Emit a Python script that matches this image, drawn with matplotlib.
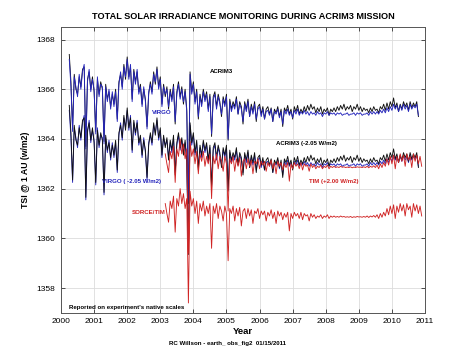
import numpy as np
import matplotlib

matplotlib.use("Agg")
import matplotlib.pyplot as plt

plt.rcParams["font.family"] = ["Liberation Sans", "DejaVu Sans"]

# ACRIM3 and VIRGO: samples every 0.05 yr from 2000.25 to 2010.80
acrim_start = 2000.25
acrim3 = [
    1367.4, 1366.3, 1364.4, 1366.6, 1366.0, 1365.8, 1366.5, 1366.1, 1366.8, 1366.9,
    1363.7, 1366.4, 1366.7, 1366.0, 1366.5, 1365.9, 1364.3, 1366.4, 1365.8, 1366.3,
    1366.0, 1363.9, 1366.2, 1365.6, 1365.9, 1365.3, 1365.8, 1365.4, 1366.0, 1364.8,
    1366.3, 1366.6, 1366.1, 1367.0, 1366.4, 1367.3, 1366.5, 1366.9, 1365.6, 1366.8,
    1366.3, 1366.7, 1365.9, 1366.2, 1365.4, 1366.0, 1365.6, 1364.5, 1365.8, 1366.3,
    1365.9, 1366.7, 1366.2, 1366.9, 1366.1, 1366.5, 1365.4, 1366.2, 1365.7, 1366.1,
    1365.2, 1366.0, 1365.6, 1366.2, 1364.6, 1365.9, 1366.3, 1365.7, 1366.1, 1365.4,
    1366.0, 1365.2, 1361.4, 1366.7, 1365.9, 1366.3, 1365.5, 1366.0, 1364.8, 1365.8,
    1365.4, 1366.0, 1365.6, 1365.9, 1365.2, 1365.8, 1364.1, 1365.7, 1365.9, 1365.3,
    1365.8, 1365.5, 1364.9, 1365.7, 1365.4, 1365.8, 1363.95, 1365.6, 1365.2, 1365.5,
    1365.3, 1365.7, 1365.0, 1365.5, 1365.3, 1364.6, 1365.5, 1365.2, 1365.6, 1364.9,
    1365.4, 1365.1, 1365.5, 1364.7, 1365.3, 1365.4, 1365.0, 1365.3, 1364.8, 1365.2,
    1365.3, 1365.0, 1365.25, 1364.7, 1365.2, 1365.05, 1365.3, 1364.9, 1365.2, 1364.5,
    1365.25, 1365.1, 1365.35, 1365.0, 1365.2, 1364.8, 1365.3, 1365.1, 1365.35, 1365.0,
    1365.2, 1365.05, 1365.3, 1365.1, 1365.35, 1365.15, 1365.4, 1365.2, 1365.3, 1365.05,
    1365.25, 1365.1, 1365.3, 1365.0, 1365.2, 1365.1, 1365.25, 1364.95, 1365.2, 1365.1,
    1365.25, 1365.1, 1365.3, 1365.15, 1365.35, 1365.2, 1365.4, 1365.15, 1365.3, 1365.2,
    1365.35, 1365.1, 1365.3, 1365.2, 1365.4, 1365.15, 1365.3, 1365.1, 1365.25, 1365.15,
    1365.2, 1365.05, 1365.25, 1365.1, 1365.3, 1365.15, 1365.2, 1365.05, 1365.3, 1365.2,
    1365.4, 1365.15, 1365.45, 1365.2, 1365.5, 1365.3, 1365.65, 1365.25, 1365.45, 1365.1,
    1365.4, 1365.2, 1365.5, 1365.3, 1365.45, 1365.15, 1365.5, 1365.25, 1365.45, 1365.3,
    1365.5, 1364.9,
]
virgo = [
    1367.2, 1366.1, 1364.3, 1366.5, 1366.1, 1365.7, 1366.6, 1366.0, 1366.7, 1367.0,
    1363.6, 1366.3, 1366.8, 1365.9, 1366.4, 1366.0, 1364.2, 1366.5, 1365.7, 1366.2,
    1366.1, 1363.8, 1366.1, 1365.5, 1366.0, 1365.2, 1365.9, 1365.3, 1365.9, 1364.7,
    1366.2, 1366.7, 1366.0, 1366.9, 1366.5, 1367.2, 1366.4, 1367.0, 1365.5, 1366.7,
    1366.2, 1366.8, 1365.8, 1366.1, 1365.3, 1366.1, 1365.5, 1364.4, 1365.9, 1366.2,
    1365.8, 1366.6, 1366.3, 1366.8, 1366.0, 1366.4, 1365.3, 1366.1, 1365.8, 1366.0,
    1365.3, 1365.9, 1365.5, 1366.1, 1364.7, 1365.8, 1366.2, 1365.6, 1366.0, 1365.5,
    1365.9, 1365.1, 1361.5, 1366.6, 1365.8, 1366.2, 1365.4, 1365.9, 1364.9, 1365.7,
    1365.3, 1365.9, 1365.5, 1365.8, 1365.1, 1365.7, 1364.2, 1365.6, 1365.8, 1365.2,
    1365.7, 1365.4, 1365.0, 1365.6, 1365.3, 1365.7, 1364.0, 1365.5, 1365.1, 1365.4,
    1365.2, 1365.6, 1365.0, 1365.4, 1365.2, 1364.7, 1365.4, 1365.1, 1365.5, 1364.9,
    1365.3, 1365.0, 1365.4, 1364.8, 1365.2, 1365.3, 1364.9, 1365.2, 1364.8, 1365.1,
    1365.15, 1364.95, 1365.2, 1364.7, 1365.1, 1365.0, 1365.2, 1364.85, 1365.1, 1364.6,
    1365.15, 1365.0, 1365.2, 1364.95, 1365.1, 1364.85, 1365.15, 1365.0, 1365.2, 1364.95,
    1365.1, 1365.0, 1365.15, 1365.0, 1365.1, 1364.95, 1365.1, 1365.0, 1365.05, 1364.95,
    1365.1, 1365.0, 1365.05, 1364.9, 1365.05, 1365.0, 1365.1, 1364.95, 1365.05, 1365.0,
    1365.05, 1364.95, 1365.05, 1365.0, 1365.05, 1364.95, 1365.0, 1365.0, 1365.05, 1364.95,
    1365.0, 1365.0, 1365.05, 1364.95, 1365.05, 1365.0, 1365.05, 1364.95, 1365.0, 1365.0,
    1365.05, 1364.95, 1365.1, 1365.0, 1365.1, 1365.0, 1365.1, 1365.0, 1365.15, 1365.05,
    1365.2, 1365.05, 1365.25, 1365.1, 1365.3, 1365.15, 1365.4, 1365.2, 1365.35, 1365.1,
    1365.35, 1365.15, 1365.4, 1365.2, 1365.35, 1365.1, 1365.4, 1365.2, 1365.35, 1365.25,
    1365.4, 1364.95,
]

# SORCE/TIM: samples every 0.05 yr from 2003.15 to 2010.90
tim_start = 2003.15
tim = [
    1361.4, 1361.0, 1360.65, 1361.5, 1361.2, 1361.7, 1360.25, 1361.6, 1361.3, 1362.0,
    1361.4, 1361.8, 1361.2, 1361.6, 1357.4, 1361.9, 1361.3, 1361.6, 1361.0, 1361.5,
    1360.6, 1361.4, 1361.1, 1361.5, 1360.9, 1361.3, 1361.0, 1361.4, 1359.6, 1361.3,
    1361.0, 1361.4, 1360.8, 1361.3, 1361.1, 1360.7, 1361.3, 1361.0, 1359.1, 1361.2,
    1361.0, 1361.3, 1360.7, 1361.2, 1360.9, 1361.25, 1360.5, 1361.1, 1361.2, 1360.8,
    1361.2, 1360.9, 1361.15, 1360.6, 1361.1, 1361.0, 1361.2, 1360.8, 1361.1, 1360.95,
    1361.1, 1360.7, 1361.05, 1360.9, 1361.15, 1360.8, 1361.05, 1360.6, 1361.1, 1360.9,
    1361.05, 1360.75, 1361.0, 1360.85, 1361.05, 1360.3, 1361.0, 1360.8, 1361.05, 1360.9,
    1361.0, 1360.8, 1361.05, 1360.75, 1361.0, 1360.9, 1360.95, 1360.7, 1361.0, 1360.85,
    1360.95, 1360.8, 1360.9, 1360.85, 1360.95, 1360.8, 1360.9, 1360.85, 1360.95, 1360.8,
    1360.9, 1360.85, 1360.9, 1360.85, 1360.88, 1360.85, 1360.9, 1360.86, 1360.88, 1360.85,
    1360.87, 1360.85, 1360.88, 1360.84, 1360.87, 1360.85, 1360.88, 1360.86, 1360.87, 1360.85,
    1360.88, 1360.85, 1360.9, 1360.84, 1360.9, 1360.86, 1360.92, 1360.85, 1360.95, 1360.8,
    1361.0, 1360.85, 1361.05, 1360.9, 1361.2, 1360.95, 1361.3, 1361.0, 1361.35, 1360.8,
    1361.3, 1361.05, 1361.4, 1361.1, 1361.35, 1360.9, 1361.4, 1361.15, 1361.3, 1360.85,
    1361.4, 1361.1, 1361.35, 1361.0, 1361.3, 1360.9,
]

# offsets used on the chart to stack the series
acrim_shift = -2.05
virgo_shift = -2.05
tim_shift = 2.00

BLACK = "#111111"
BLUE = "#2626bc"
RED = "#d02424"

t_acrim = acrim_start + 0.05 * np.arange(len(acrim3))
t_virgo = acrim_start + 0.05 * np.arange(len(virgo))
t_tim = tim_start + 0.05 * np.arange(len(tim))
a = np.array(acrim3)
v = np.array(virgo)
s = np.array(tim)

fig = plt.figure(figsize=(4.7, 3.52), dpi=100)
ax = fig.add_axes([0.1298, 0.111, 0.7745, 0.812])

lw = 0.65
ax.plot(t_acrim, a, color=BLACK, lw=lw)
ax.plot(t_virgo, v, color=BLUE, lw=lw)
ax.plot(t_virgo, v + virgo_shift, color=BLUE, lw=lw)
ax.plot(t_acrim, a + acrim_shift, color=BLACK, lw=lw)
ax.plot(t_tim, s + tim_shift, color=RED, lw=lw)
ax.plot(t_tim, s, color=RED, lw=lw)

ax.set_xlim(2000, 2011)
ax.set_ylim(1357, 1368.5)
ax.set_xticks(np.arange(2000, 2012))
ax.set_yticks(np.arange(1358, 1369, 2))
ax.grid(True, color="#dcdcdc", lw=0.6)
ax.set_axisbelow(True)
ax.tick_params(direction="in", top=True, right=True, length=3, width=0.6,
               labelsize=6, pad=4, colors="#333333", labelcolor="black")
for sp in ax.spines.values():
    sp.set_color("#555555")
    sp.set_linewidth(0.7)

ax.set_xlabel("Year", fontsize=6.8, fontweight="bold", labelpad=1)
ax.set_ylabel("TSI @ 1 AU (w/m2)", fontsize=6.3, fontweight="bold", labelpad=5)
ax.set_title("TOTAL SOLAR IRRADIANCE MONITORING DURING ACRIM3 MISSION",
             fontsize=6.6, fontweight="bold", pad=6)

lab = dict(fontsize=4.4, fontweight="bold", va="center", ha="left")
ax.text(2004.5, 1366.7, "ACRIM3", color="black", **lab)
ax.text(2002.75, 1365.07, "VIRGO", color=BLUE, **lab)
ax.text(2006.5, 1363.8, "ACRIM3 (-2.05 W/m2)", color="black", **lab)
ax.text(2007.5, 1362.3, "TIM (+2.00 W/m2)", color=RED, **lab)
ax.text(2001.25, 1362.3, "VIRGO ( -2.05 W/m2)", color=BLUE, **lab)
ax.text(2002.13, 1361.05, "SORCE/TIM", color=RED, **lab)
ax.text(2000.25, 1357.2, "Reported on experiment's native scales", color="black", **lab)

fig.text(0.483, 1 - 344 / 352, "RC Willson - earth_ obs_fig2  01/15/2011",
         fontsize=4.4, fontweight="bold", ha="center", va="center")

fig.savefig("out.png", dpi=100)
